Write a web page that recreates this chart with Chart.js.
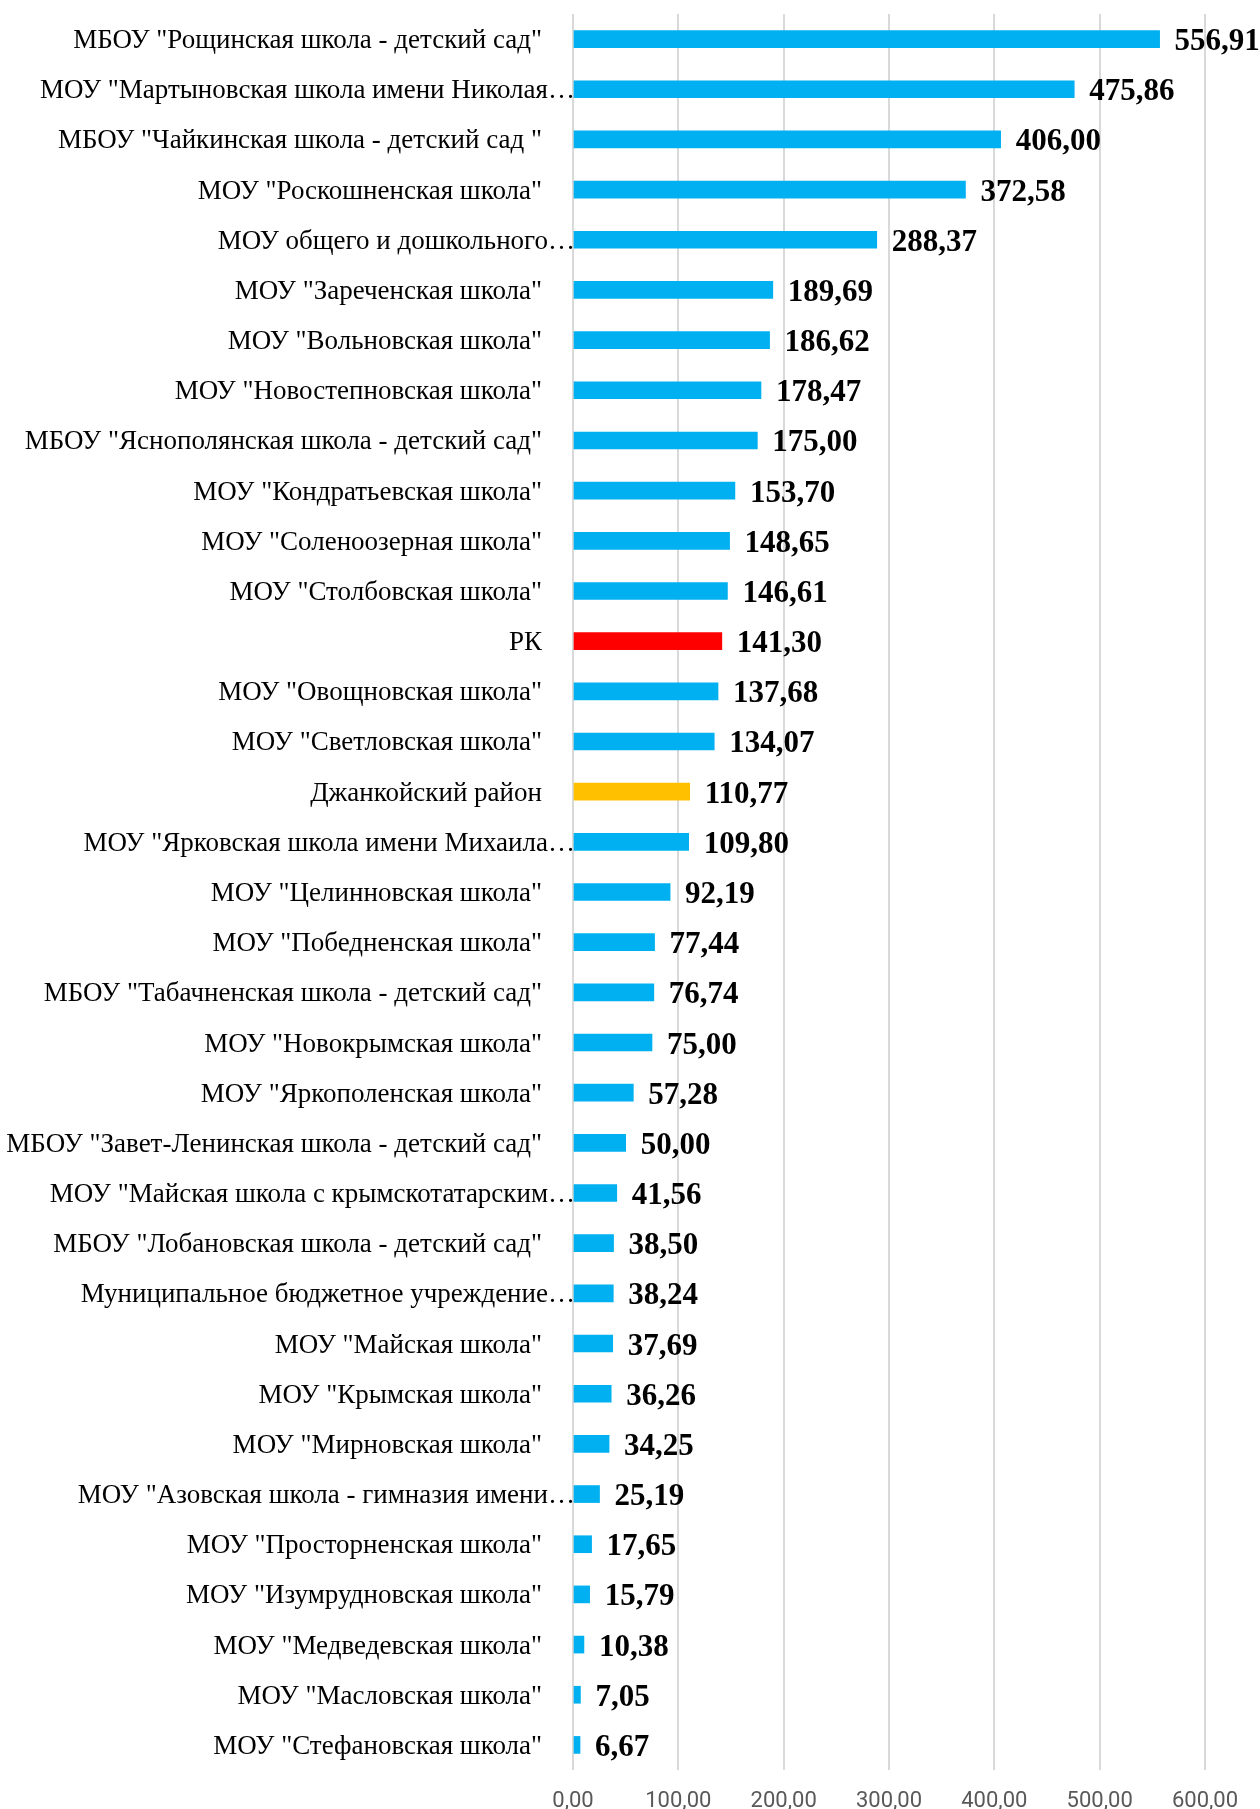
<!DOCTYPE html>
<html>
<head>
<meta charset="utf-8">
<script src="https://cdn.jsdelivr.net/npm/chart.js@4"></script>
<style>
  html, body { margin: 0; padding: 0; background: #fff; }
  #wrap { width: 1260px; height: 1809px; }
</style>
</head>
<body>
<div id="wrap"><canvas id="canvas"></canvas></div>
<script>
var schools = [
  'МБОУ "Рощинская школа - детский сад"',
  'МОУ "Мартыновская школа имени Николая…',
  'МБОУ "Чайкинская школа - детский сад "',
  'МОУ "Роскошненская школа"',
  'МОУ общего и дошкольного…',
  'МОУ "Зареченская школа"',
  'МОУ "Вольновская школа"',
  'МОУ "Новостепновская школа"',
  'МБОУ "Яснополянская школа - детский сад"',
  'МОУ "Кондратьевская школа"',
  'МОУ "Соленоозерная школа"',
  'МОУ "Столбовская школа"',
  'РК',
  'МОУ "Овощновская школа"',
  'МОУ "Светловская школа"',
  'Джанкойский район',
  'МОУ "Ярковская школа имени Михаила…',
  'МОУ "Целинновская школа"',
  'МОУ "Победненская школа"',
  'МБОУ "Табачненская школа - детский сад"',
  'МОУ "Новокрымская школа"',
  'МОУ "Яркополенская школа"',
  'МБОУ "Завет-Ленинская школа - детский сад"',
  'МОУ "Майская школа с крымскотатарским…',
  'МБОУ "Лобановская школа - детский сад"',
  'Муниципальное бюджетное учреждение…',
  'МОУ "Майская школа"',
  'МОУ "Крымская школа"',
  'МОУ "Мирновская школа"',
  'МОУ "Азовская школа - гимназия имени…',
  'МОУ "Просторненская школа"',
  'МОУ "Изумрудновская школа"',
  'МОУ "Медведевская школа"',
  'МОУ "Масловская школа"',
  'МОУ "Стефановская школа"'
];
var values = [
  556.91, 475.86, 406.00, 372.58, 288.37, 189.69, 186.62, 178.47, 175.00, 153.70,
  148.65, 146.61, 141.30, 137.68, 134.07, 110.77, 109.80, 92.19, 77.44, 76.74,
  75.00, 57.28, 50.00, 41.56, 38.50, 38.24, 37.69, 36.26, 34.25, 25.19,
  17.65, 15.79, 10.38, 7.05, 6.67
];
var xTicks = [0, 100, 200, 300, 400, 500, 600];

function fmt(v) {
  return v.toFixed(2).replace('.', ',');
}

// RK is red, the district is yellow, all schools blue
var barColors = schools.map(function (s) {
  if (s == 'РК') return '#FF0000';
  if (s == 'Джанкойский район') return '#FFC000';
  return '#00B0F0';
});

// draws category names and bold values next to the bars
var labelsPlugin = {
  id: 'labels',
  afterDatasetsDraw: function (chart) {
    var ctx = chart.ctx;
    var yScale = chart.scales.y;
    var left = chart.chartArea.left;
    var meta = chart.getDatasetMeta(0);
    ctx.save();
    ctx.fillStyle = '#000';
    ctx.textBaseline = 'alphabetic';
    for (var i = 0; i < schools.length; i++) {
      var y = yScale.getPixelForTick(i);
      ctx.font = '27px "Liberation Serif", "Times New Roman", serif';
      ctx.textAlign = 'right';
      var cut = schools[i].slice(-1) == '…';
      ctx.fillText(schools[i], cut ? left + 2 : left - 31, y + 9);

      var bar = meta.data[i];
      ctx.font = 'bold 31px "Liberation Serif", "Times New Roman", serif';
      ctx.textAlign = 'left';
      ctx.fillText(fmt(values[i]), bar.x + 15, y + 11);
    }
    ctx.restore();
  }
};

window.onload = function () {
  var ctx = document.getElementById('canvas').getContext('2d');
  window.myBar = new Chart(ctx, {
    type: 'bar',
    data: {
      labels: schools,
      datasets: [{
        data: values,
        backgroundColor: barColors,
        borderWidth: 0,
        barThickness: 17
      }]
    },
    options: {
      indexAxis: 'y',
      responsive: true,
      maintainAspectRatio: false,
      animation: false,
      layout: { padding: { top: 14, right: 55, left: 0, bottom: 0 } },
      plugins: {
        legend: { display: false },
        tooltip: { enabled: false }
      },
      scales: {
        x: {
          min: 0,
          max: 600,
          afterBuildTicks: function (axis) {
            axis.ticks = xTicks.map(function (v) { return { value: v }; });
          },
          afterFit: function (axis) { axis.height = 39; },
          grid: { color: '#D9D9D9', lineWidth: 2, drawTicks: false, tickLength: 0 },
          border: { display: false },
          ticks: {
            padding: 18,
            maxRotation: 0,
            color: '#595959',
            font: { family: 'Roboto', size: 22 },
            callback: function (v) { return fmt(v); }
          }
        },
        y: {
          afterFit: function (axis) { axis.width = 573; },
          grid: { display: false },
          border: { display: false },
          ticks: { display: false }
        }
      }
    },
    plugins: [labelsPlugin]
  });
};
</script>
</body>
</html>
